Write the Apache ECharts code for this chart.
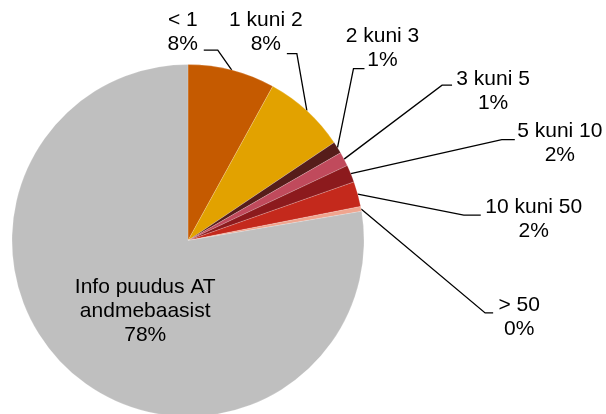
<!DOCTYPE html>
<html>
<head>
<meta charset="utf-8">
<title>Pie</title>
<script src="https://cdn.jsdelivr.net/npm/echarts@6/dist/echarts.min.js"></script>
<style>
  html, body { margin: 0; padding: 0; background: #fff; }
  #chart { width: 606px; height: 414px; }
</style>
</head>
<body>
<div id="chart"></div>
<script>
// slice names and shares (percent), clockwise from 12 o'clock
const categories = ["< 1", "1 kuni 2", "2 kuni 3", "3 kuni 5", "5 kuni 10", "10 kuni 50", "> 50", "Info puudus AT\nandmebaasist"];
const shares = [8.0, 7.6, 1.1, 1.3, 1.6, 2.3, 0.45, 77.65];

const colors = ["#C55A00", "#E2A200", "#561D1A", "#C04A5C", "#8C1A1D", "#C4291C", "#EFA58F", "#BFBFBF"];

// leader lines: elbow dx, elbow dy (from slice edge), horizontal run, label dx, label dy (from line end)
const leaders = [
  [-14, -20, -14, -21, -18],
  [-10, -57, -10, -21, -21],
  [16, -79, 11, 18, -20],
  [98, -74, 10, 41, 6],
  [151, -34, 13, 45, 4],
  [106, 21, 17, 53, 4],
  [124, 104, 8, 26, 4]
];

const chart = echarts.init(document.getElementById("chart"));

const data = categories.map(function (name, i) {
  const item = {
    name: name,
    value: shares[i],
    itemStyle: { color: colors[i] }
  };
  if (i === categories.length - 1) {
    item.label = { position: "inside" };
    item.labelLine = { show: false };
  }
  return item;
});

chart.setOption({
  animation: false,
  series: [
    {
      type: "pie",
      center: [188, 240.5],
      radius: 176,
      startAngle: 90,
      clockwise: true,
      avoidLabelOverlap: false,
      itemStyle: {
        borderColor: "rgba(255,255,255,0.6)",
        borderWidth: 0.3
      },
      label: {
        show: true,
        position: "outside",
        formatter: function (p) {
          return p.name + "\n" + Math.round(p.value) + "%";
        },
        color: "#000",
        fontFamily: "Liberation Sans, Arial, sans-serif",
        fontSize: 21,
        lineHeight: 24,
        align: "center"
      },
      labelLine: {
        show: true,
        lineStyle: { color: "#000", width: 1.3 }
      },
      labelLayout: function (params) {
        const lead = leaders[params.dataIndex];
        if (!lead || !params.labelLinePoints) {
          return { dx: 16, dy: 1 };
        }
        const p0 = params.labelLinePoints[0];
        const p1 = [p0[0] + lead[0], p0[1] + lead[1]];
        const p2 = [p1[0] + lead[2], p1[1]];
        return {
          x: p2[0] + lead[3],
          y: p2[1] + lead[4],
          align: "center",
          verticalAlign: "middle",
          labelLinePoints: [p0, p1, p2]
        };
      },
      data: data
    }
  ]
});
</script>
</body>
</html>
